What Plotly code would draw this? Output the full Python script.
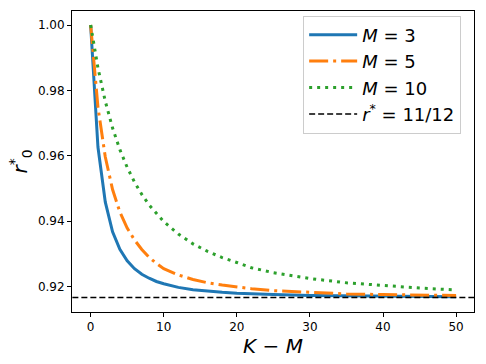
import plotly.graph_objects as go

x_vals = [0, 1, 2, 3, 4, 5, 6, 7, 8, 9, 10, 12, 14, 16, 18, 20, 22, 25, 30, 35, 40, 45, 50]

r_m3 = [1.0, 0.9627, 0.9459, 0.9368, 0.9314, 0.9279, 0.9255, 0.9238, 0.9226, 0.9216, 0.9209,
        0.9198, 0.9191, 0.9186, 0.9183, 0.9180, 0.9178, 0.9176, 0.9173, 0.9172, 0.9171, 0.9170, 0.9169]
r_m5 = [1.0, 0.9749, 0.9597, 0.9497, 0.9428, 0.9379, 0.9343, 0.9314, 0.9290, 0.9271, 0.9255,
        0.9236, 0.9222, 0.9212, 0.9205, 0.9199, 0.9194, 0.9188, 0.9182, 0.9178, 0.9176, 0.9174, 0.9173]
r_m10 = [1.0, 0.9869, 0.9767, 0.9685, 0.9619, 0.9565, 0.9520, 0.9482, 0.9450, 0.9423, 0.9399,
         0.9361, 0.9331, 0.9308, 0.9289, 0.9274, 0.9258, 0.9243, 0.9225, 0.9212, 0.9203, 0.9196, 0.9190]
r_star = 11 / 12

names = ["<i>M</i> = 3", "<i>M</i> = 5", "<i>M</i> = 10", "<i>r</i><sup>*</sup> = 11/12"]
colors = ["#1f77b4", "#ff7f0e", "#2ca02c", "black"]

fig = go.Figure()
fig.add_trace(go.Scatter(x=x_vals, y=r_m3, mode="lines", name=names[0], legendgroup="a",
                         line=dict(color=colors[0], width=3)))
fig.add_trace(go.Scatter(x=x_vals, y=r_m5, mode="lines", name=names[1], legendgroup="b",
                         line=dict(color=colors[1], width=3, dash="19px,5px,3px,5px")))
fig.add_trace(go.Scatter(x=x_vals, y=r_m10, mode="lines", name=names[2], legendgroup="c",
                         line=dict(color=colors[2], width=3, dash="3px,5px")))
fig.add_trace(go.Scatter(x=[-2.5, 52.5], y=[r_star, r_star], mode="lines", name=names[3], legendgroup="d",
                         line=dict(color=colors[3], width=1.5, dash="6px,3px")))

axis_common = dict(showline=True, linecolor="black", linewidth=1, mirror=True, showgrid=False,
                   zeroline=False, ticks="outside", ticklen=4, tickcolor="black", automargin=False,
                   tickfont=dict(family="DejaVu Sans", size=12, color="black"))

fig.update_layout(
    width=486, height=364,
    margin=dict(l=72, r=12, t=11, b=52),
    paper_bgcolor="white", plot_bgcolor="white",
    font=dict(family="DejaVu Sans", color="black"),
    xaxis=dict(range=[-2.55, 52.45], tickvals=[0, 10, 20, 30, 40, 50],
               title=dict(text="<i>K</i> − <i>M</i>", font=dict(size=20), standoff=0), **axis_common),
    yaxis=dict(range=[0.91227, 1.00428], tickvals=[0.92, 0.94, 0.96, 0.98, 1.00], tickformat=".2f",
               title=dict(text="<i>r</i><sup>*</sup><sub>0</sub>", font=dict(size=20), standoff=4), **axis_common),
    legend=dict(x=0.575, y=0.985, xanchor="left", yanchor="top",
                bgcolor="rgba(255,255,255,0.8)", bordercolor="#cccccc", borderwidth=1,
                font=dict(size=18, color="black"), tracegroupgap=0, itemwidth=48),
    showlegend=True,
)

fig.write_html("out.html", config={"displayModeBar": False},
               post_script="document.body.style.margin='0';document.body.style.overflow='hidden';")
